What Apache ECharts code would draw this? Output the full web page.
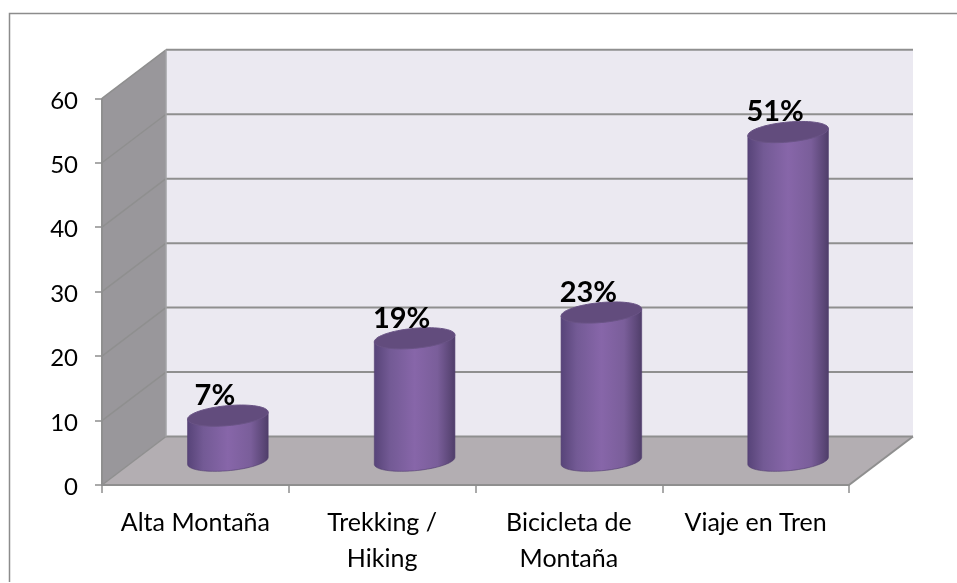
<!DOCTYPE html>
<html><head><meta charset="utf-8">
<style>html,body{margin:0;padding:0;background:#fff}#c{width:957px;height:583px}</style>
<script src="https://cdn.jsdelivr.net/npm/echarts@6/dist/echarts.min.js"></script>
</head><body><div id="c"></div>
<script>
var categories = ['Alta Montaña', 'Trekking /\nHiking', 'Bicicleta de\nMontaña', 'Viaje en Tren'];
var values = [7, 19, 23, 51];
var yTicks = [0, 10, 20, 30, 40, 50, 60];

var FONT = 'Lato, Carlito, "Open Sans", sans-serif';
var DX = 64, DY = -48.5;           // depth of the 3D box
var LINE = '#8f8f8f';
var RX = 40.3, RY = 10, SKEW = 3.5;

function lineEl(a, b, w, color) {
  return { type: 'line', shape: { x1: a[0], y1: a[1], x2: b[0], y2: b[1] },
           style: { stroke: color || LINE, lineWidth: w || 2 } };
}
function poly(pts, fill) {
  return { type: 'polygon', shape: { points: pts }, style: { fill: fill } };
}
function boxRender(params, api) {
  var cs = params.coordSys;
  var l = cs.x, r = cs.x + cs.width;
  var y0 = api.coord([0, 0])[1], yMax = api.coord([0, 60])[1];
  var ch = [];
  ch.push(poly([[l + DX, yMax + DY], [r + DX, yMax + DY], [r + DX, y0 + DY], [l + DX, y0 + DY]], '#ebe9f1'));
  ch.push(poly([[l, yMax], [l + DX, yMax + DY], [l + DX, y0 + DY], [l, y0]], '#99979b'));
  ch.push(poly([[l, y0], [r, y0], [r + DX, y0 + DY], [l + DX, y0 + DY]], '#b3aeb2'));
  yTicks.forEach(function (t) {
    var y = api.coord([0, t])[1];
    ch.push(lineEl([l, y], [l + DX, y + DY], 1.5));
    ch.push(lineEl([l + DX, y + DY], [r + DX, y + DY], 2));
  });
  ch.push(lineEl([l + DX, yMax + DY], [l + DX, y0 + DY], 1.5, '#a3a3a6'));
  ch.push(lineEl([r, y0], [r + DX, y0 + DY], 2));
  ch.push(lineEl([l, yMax], [l, y0], 2));
  return { type: 'group', children: ch };
}
function ell(cx, cy, from, to, n) {
  var p = [];
  for (var i = 0; i <= n; i++) {
    var t = from + (to - from) * i / n;
    p.push([cx + RX * Math.cos(t), cy - SKEW * Math.cos(t) + RY * Math.sin(t)]);
  }
  return p;
}
function barRender(params, api) {
  var base = api.coord([api.value(0), 0]);
  var top = api.coord([api.value(0), api.value(1)]);
  var cx = base[0] + DX / 2 + 0.5, by = base[1] + DY / 2, ty = top[1] + DY / 2;
  var body = ell(cx, by, 0, Math.PI, 48);
  body.push([cx - RX, ty + SKEW], [cx + RX, ty - SKEW]);
  var grad = { type: 'linear', x: 0, y: 0, x2: 1, y2: 0, colorStops: [
    { offset: 0, color: '#56437a' }, { offset: 0.06, color: '#5f4a80' }, { offset: 0.2, color: '#735a95' },
    { offset: 0.5, color: '#8766a9' }, { offset: 0.78, color: '#7a5e9a' }, { offset: 0.93, color: '#5d4879' },
    { offset: 1, color: '#4e3d68' }] };
  return { type: 'group', children: [
    { type: 'polygon', shape: { points: body }, style: { fill: grad, stroke: 'rgba(80,60,110,0.6)', lineWidth: 1 } },
    { type: 'polygon', shape: { points: ell(cx, ty, 0, Math.PI * 2, 72) }, style: { fill: '#624c7d', stroke: '#6a5486', lineWidth: 1 } },
    { type: 'text', style: { text: api.value(1) + '%', x: cx - 13, y: ty - 20, align: 'center', verticalAlign: 'middle',
        fill: '#000', font: 'bold 29px ' + FONT } }
  ] };
}

var chart = echarts.init(document.getElementById('c'), null, { renderer: 'canvas' });
chart.setOption({
  animation: false,
  backgroundColor: '#fff',
  graphic: [
    { type: 'polyline', silent: true, shape: { points: [[9.5, 582], [9.5, 13.5], [957, 13.5]] }, style: { fill: 'none', stroke: '#8c8c8c', lineWidth: 1.5 } }
  ],
  grid: { left: 102, top: 98.3, width: 747, height: 386.7, containLabel: false },
  xAxis: {
    type: 'category', data: categories, z: 5,
    axisLine: { lineStyle: { color: LINE, width: 2 } },
    axisTick: { show: true, length: 8, lineStyle: { color: LINE, width: 1.5 } },
    axisLabel: { color: '#000', fontFamily: FONT, fontSize: 25, lineHeight: 36, margin: 20, interval: 0 }
  },
  yAxis: {
    type: 'value', min: 0, max: 60, interval: 10, z: 5,
    splitLine: { show: false },
    axisLine: { show: false },
    axisTick: { show: true, length: 7, lineStyle: { color: LINE, width: 1.5 } },
    axisLabel: { margin: 24, formatter: '{a|{value}}',
      rich: { a: { color: '#000', fontFamily: FONT, fontSize: 24, padding: [5, 0, 0, 0] } } }
  },
  series: [
    { type: 'custom', silent: true, clip: false, z: 1, data: [[0, 0]], renderItem: boxRender, encode: { x: 0, y: 1 } },
    { type: 'custom', silent: true, clip: false, z: 3, data: values.map(function (v, i) { return [i, v]; }), renderItem: barRender, encode: { x: 0, y: 1 } }
  ]
});
</script></body></html>
